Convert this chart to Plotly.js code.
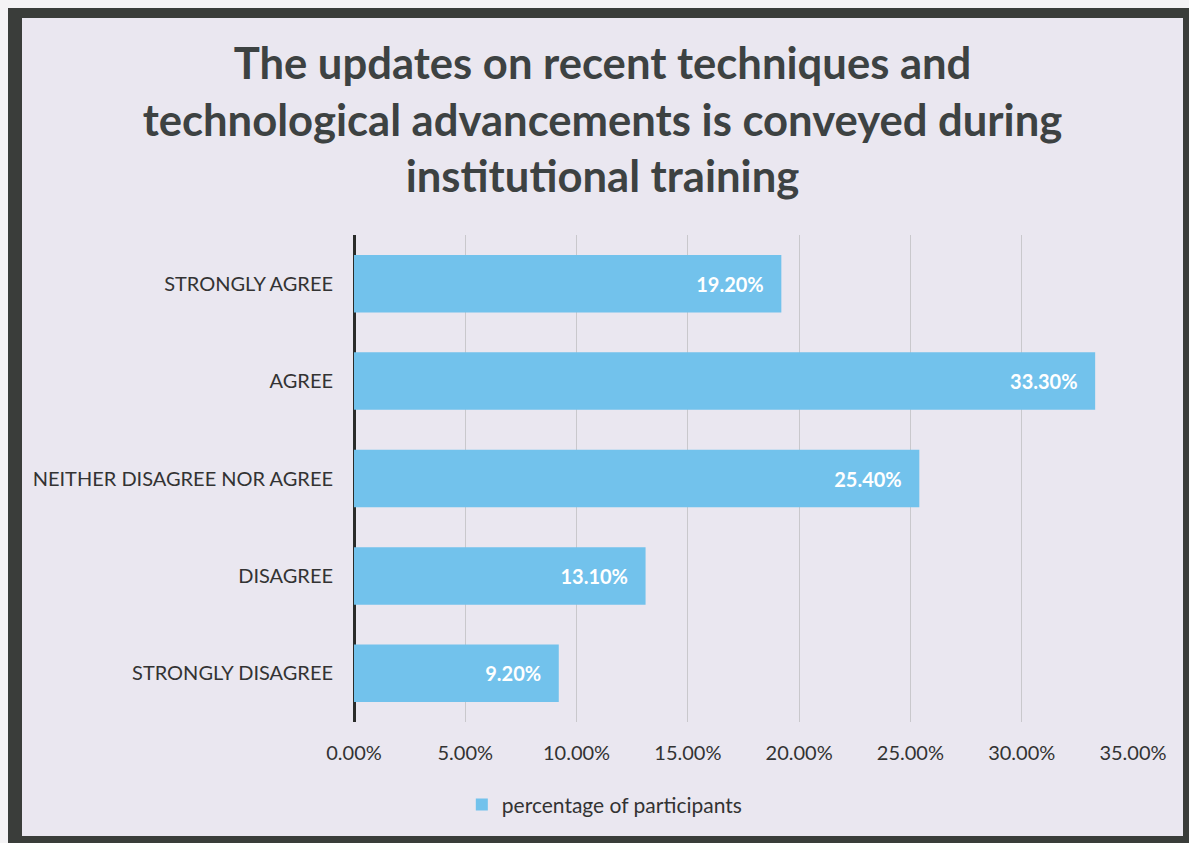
<!DOCTYPE html>
<html>
<head>
<meta charset="utf-8">
<script src="https://cdn.plot.ly/plotly-3.0.1.min.js"></script>
<style>
  html, body { margin: 0; padding: 0; background: #f4f3f5; }
  #frame {
    position: absolute; left: 8px; top: 8px;
    border-style: solid; border-color: #3a3d3a;
    border-width: 10px 6px 7px 14px;
    width: 1161px; height: 818px;
  }
  #chart { width: 1161px; height: 818px; }
</style>
</head>
<body>
<div id="frame"><div id="chart"></div></div>
<script>
const categories = ["STRONGLY AGREE", "AGREE", "NEITHER DISAGREE NOR AGREE", "DISAGREE", "STRONGLY DISAGREE"];
const percentages = [0.192, 0.333, 0.254, 0.131, 0.092];
const seriesName = "percentage of participants";
const tickValues = [0, 0.05, 0.10, 0.15, 0.20, 0.25, 0.30, 0.35];

const font = "Lato, 'Open Sans', sans-serif";

const trace = {
  type: "bar",
  orientation: "h",
  y: categories,
  x: percentages,
  name: seriesName,
  marker: { color: "#72c2ec" },
  texttemplate: "%{x:.2%}\u00a0\u00a0\u00a0",
  textposition: "inside",
  insidetextanchor: "end",
  textfont: { family: font, size: 20, color: "#ffffff", weight: "bold" },
  cliponaxis: false,
  hoverinfo: "skip",
  showlegend: true
};

const layout = {
  width: 1161, height: 818,
  paper_bgcolor: "#eae7f0",
  plot_bgcolor: "#eae7f0",
  margin: { l: 332, r: 50, t: 217, b: 114 },
  bargap: 0.41,
  title: {
    text: "<b>The updates on recent techniques and<br>technological advancements is conveyed during<br>institutional training</b>",
    font: { family: font, size: 43.6, color: "#3d4242" },
    x: 0.5, xref: "container", xanchor: "center",
    y: 1, yref: "container", yanchor: "top", pad: { t: 61 }
  },
  xaxis: {
    range: [0, 0.35],
    tickvals: tickValues,
    tickformat: ".2%",
    showgrid: true, gridcolor: "#c9c8cc", gridwidth: 1,
    zeroline: true, zerolinecolor: "#2a2c2a", zerolinewidth: 3,
    showline: false, ticks: "",
    ticklabelstandoff: 17,
    tickfont: { family: font, size: 20, color: "#333333" },
    fixedrange: true
  },
  yaxis: {
    autorange: "reversed",
    type: "category",
    showgrid: false, zeroline: false, showline: false, ticks: "",
    ticklabelstandoff: 20,
    tickfont: { family: font, size: 20, color: "#333333" },
    fixedrange: true
  },
  legend: {
    orientation: "h",
    x: 0.502, xref: "container", xanchor: "center",
    y: 0.038, yref: "container", yanchor: "middle",
    font: { family: font, size: 21, color: "#333333" },
    bgcolor: "rgba(0,0,0,0)",
    itemwidth: 30
  },
  showlegend: true
};

Plotly.newPlot("chart", [trace], layout, { staticPlot: true, displayModeBar: false });
</script>
</body>
</html>
